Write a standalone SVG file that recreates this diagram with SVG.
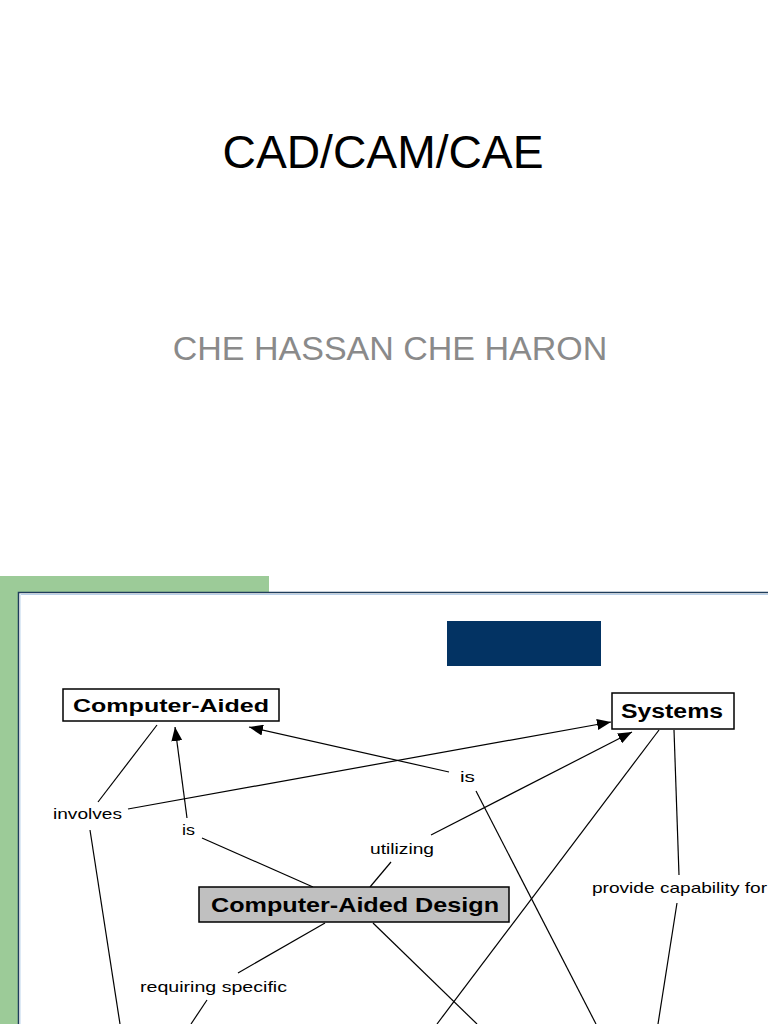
<svg xmlns="http://www.w3.org/2000/svg" width="768" height="1024" viewBox="0 0 768 1024">
<defs>
<style>
.title{font-family:"Liberation Sans",Arial,sans-serif;font-size:46px;fill:#000}
.sub{font-family:"Liberation Sans",Arial,sans-serif;font-size:34px;fill:#8a8a8a}
.node{fill:#fff;stroke:#000;stroke-width:1.5}
.ntext{font-family:"Liberation Sans",Arial,sans-serif;font-weight:bold;fill:#000}
.lbl{font-family:"Liberation Sans",Arial,sans-serif;font-size:15px;fill:#000}
.conn line{stroke:#000;stroke-width:1.2}
</style>
<marker id="arr" viewBox="0 0 14 11" refX="14" refY="5.5" markerWidth="14" markerHeight="11" markerUnits="userSpaceOnUse" orient="auto">
<path d="M0,0 L14,5.5 L0,11 Z" fill="#000"/>
</marker>
</defs>
<rect width="768" height="1024" fill="#fff"/>
<text class="title" x="383" y="168" text-anchor="middle" textLength="321" lengthAdjust="spacingAndGlyphs">CAD/CAM/CAE</text>
<text class="sub" x="390" y="360" text-anchor="middle">CHE HASSAN CHE HARON</text>
<rect x="0" y="576" width="269" height="448" fill="#9ccb98"/>
<rect x="18.5" y="592.5" width="760" height="440" fill="#fff" stroke="#1f3d5c" stroke-width="1.5"/>
<line x1="20" y1="594.5" x2="768" y2="594.5" stroke="#b8d0ea" stroke-width="1.2"/>
<line x1="20.5" y1="594" x2="20.5" y2="1024" stroke="#dde9f5" stroke-width="1"/>
<rect x="447" y="621" width="154" height="45" fill="#033363"/>
<g class="conn">
<line x1="157" y1="725" x2="98" y2="802"/>
<line x1="128" y1="809" x2="611" y2="722" marker-end="url(#arr)"/>
<line x1="90" y1="830" x2="120" y2="1024"/>
<line x1="187" y1="818" x2="175" y2="727" marker-end="url(#arr)"/>
<line x1="202" y1="838" x2="313" y2="887"/>
<line x1="449" y1="772" x2="249" y2="727" marker-end="url(#arr)"/>
<line x1="476" y1="791" x2="596" y2="1024"/>
<line x1="431" y1="835" x2="632" y2="732" marker-end="url(#arr)"/>
<line x1="391" y1="862" x2="370" y2="887"/>
<line x1="659" y1="730" x2="437" y2="1024"/>
<line x1="674" y1="730" x2="679" y2="875"/>
<line x1="677" y1="903" x2="658" y2="1024"/>
<line x1="373" y1="923" x2="477" y2="1024"/>
<line x1="325" y1="923" x2="238" y2="973"/>
<line x1="207" y1="1000" x2="191" y2="1024"/>
</g>
<g id="label-involves"><text class="lbl" x="53" y="819" textLength="69" lengthAdjust="spacingAndGlyphs">involves</text></g>
<g id="label-is-left"><text class="lbl" x="182" y="835" textLength="13" lengthAdjust="spacingAndGlyphs">is</text></g>
<g id="label-is-right"><text class="lbl" x="460" y="782" textLength="15" lengthAdjust="spacingAndGlyphs">is</text></g>
<g id="label-utilizing"><text class="lbl" x="370" y="854" textLength="64" lengthAdjust="spacingAndGlyphs">utilizing</text></g>
<g id="label-provide"><text class="lbl" x="592" y="893" textLength="175" lengthAdjust="spacingAndGlyphs">provide capability for</text></g>
<g id="label-requiring"><text class="lbl" x="140" y="992" textLength="147" lengthAdjust="spacingAndGlyphs">requiring specific</text></g>
<g id="node-computer-aided">
<rect class="node" x="63" y="689" width="216" height="32"/>
<text class="ntext" x="73" y="712" font-size="19" textLength="196" lengthAdjust="spacingAndGlyphs">Computer-Aided</text>
</g>
<g id="node-systems">
<rect class="node" x="612" y="693" width="122" height="36"/>
<text class="ntext" x="621" y="718" font-size="20" textLength="102" lengthAdjust="spacingAndGlyphs">Systems</text>
</g>
<g id="node-cad">
<rect class="node" x="199" y="887" width="310" height="35" style="fill:#c0c0c0"/>
<text class="ntext" x="211" y="912" font-size="21" textLength="288" lengthAdjust="spacingAndGlyphs">Computer-Aided Design</text>
</g>
</svg>
